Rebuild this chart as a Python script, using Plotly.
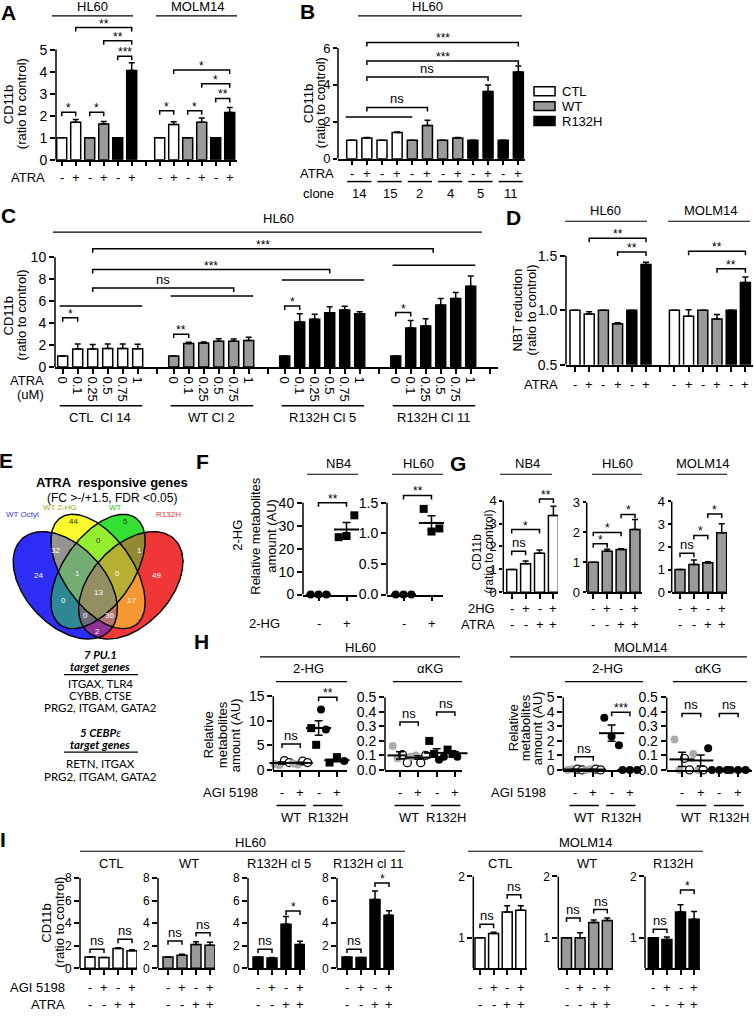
import numpy as np
import plotly.graph_objects as go

W, H = 754, 1016
FONT = "Liberation Sans, Arial, sans-serif"
SERIF_GENES = "Lato, Open Sans, sans-serif"
LW = 1.5
GRAY = "#9a9a9a"
DOT_GRAY = "#ababab"

# ---------------- data ----------------
# A: CD11b, ATRA -/+ for CTL, WT, R132H
a_hl60 = [1.0, 1.70, 1.0, 1.62, 1.0, 4.05]
a_hl60_err = [0, 0.13, 0, 0.12, 0, 0.35]
a_molm = [1.0, 1.60, 1.0, 1.70, 1.0, 2.15]
a_molm_err = [0, 0.12, 0, 0.20, 0, 0.22]
atra_pm = ["-", "+"] * 3

# B: clones
b_clones = ["14", "15", "2", "4", "5", "11"]
b_vals = [1.0, 1.12, 1.0, 1.42, 1.0, 1.80, 1.0, 1.12, 1.0, 3.65, 1.0, 4.70]
b_err = [0, 0.03, 0, 0.03, 0, 0.28, 0, 0.03, 0, 0.35, 0, 0.32]
b_legend = ["CTL", "WT", "R132H"]

# C: ATRA dose response
c_doses = ["0", "0.1", "0.25", "0.5", "0.75", "1"]
c_groups = ["CTL  Cl 14", "WT Cl 2", "R132H Cl 5", "R132H Cl 11"]
c_ctl = [1.0, 1.65, 1.65, 1.70, 1.70, 1.68]
c_ctl_err = [0, 0.45, 0.40, 0.40, 0.40, 0.40]
c_wt = [1.0, 2.15, 2.20, 2.35, 2.35, 2.42]
c_wt_err = [0, 0.12, 0.08, 0.22, 0.20, 0.30]
c_cl5 = [1.0, 4.10, 4.35, 4.95, 5.20, 4.85]
c_cl5_err = [0, 0.75, 0.45, 0.55, 0.35, 0.20]
c_cl11 = [1.0, 3.55, 3.75, 5.65, 6.25, 7.35]
c_cl11_err = [0, 0.70, 0.65, 0.60, 0.55, 0.95]

# D: NBT reduction
d_hl60 = [1.0, 0.965, 1.0, 0.875, 1.0, 1.42]
d_hl60_err = [0, 0.02, 0, 0.01, 0, 0.02]
d_molm = [1.0, 0.945, 1.0, 0.92, 1.0, 1.255]
d_molm_err = [0, 0.06, 0, 0.04, 0, 0.05]

# E: Venn
venn_sets = ["WT Octyl", "WT 2-HG", "WT", "R132H"]
venn_regions = ["A", "B", "C", "D", "AB", "BC", "CD", "ABC", "BCD", "ABCD", "AC", "BD", "ACD", "ABD", "AD"]
venn_counts = [24, 44, 5, 49, 32, 0, 1, 1, 0, 13, 0, 17, 0, 36, 2]
pu1_genes = ["ITGAX, TLR4", "CYBB, CTSE", "PRG2, ITGAM, GATA2"]
cebpe_genes = ["RETN, ITGAX", "PRG2, ITGAM, GATA2"]

# F: 2-HG metabolites
f_nb4 = [{"circle": [0, 0, 0]}, {"square": [25.0, 25.5, 34.5]}]
f_hl60 = [{"circle": [0, 0, 0]}, {"square": [1.40, 1.03, 1.08]}]

# G: CD11b with 2HG / ATRA
g_nb4 = [1.0, 1.25, 1.70, 3.35]
g_nb4_err = [0, 0.12, 0.15, 0.40]
g_hl60 = [1.0, 1.37, 1.43, 2.10]
g_hl60_err = [0, 0.07, 0.02, 0.33]
g_molm = [1.0, 1.22, 1.30, 2.62]
g_molm_err = [0, 0.20, 0.05, 0.40]

# H: metabolites with AGI 5198
h_hl60_2hg = [
    {"gray": [1.2, 1.0], "open": [1.9, 1.5]},
    {"gray": [1.3, 1.1], "open": [1.8, 1.5]},
    {"square": [8.5, 5.1], "circle": [12.3, 8.2]},
    {"square": [1.5, 2.6], "circle": [1.8]},
]
h_hl60_akg = [
    {"gray": [0.165, 0.08], "open": [0.105, 0.05]},
    {"gray": [0.09, 0.10], "open": [0.05, 0.10]},
    {"square": [0.20, 0.11], "circle": [0.07, 0.09]},
    {"square": [0.14, 0.11], "circle": [0.09, 0.12]},
]
h_molm_2hg = [
    {"gray": [0.0, 0.05], "open": [0.05, 0.0]},
    {"gray": [0.0, 0.05], "open": [0.05, 0.0]},
    {"circle": [3.6, 2.3, 1.7]},
    {"circle": [0.0, 0.0, 0.0]},
]
h_molm_akg = [
    {"gray": [0.21, 0.0], "open": [0.08, 0.0]},
    {"gray": [0.11, 0.0], "open": [0.0], "circle": [0.15]},
    {"circle": [0.0, 0.0, 0.0]},
    {"circle": [0.0, 0.0, 0.0]},
]

# I: CD11b with AGI 5198 / ATRA
i_ctl = [1.0, 0.95, 1.75, 1.55]
i_ctl_err = [0, 0, 0.08, 0.10]
i_wt = [1.0, 1.15, 2.10, 2.05]
i_wt_err = [0, 0.10, 0.25, 0.25]
i_cl5 = [1.0, 0.92, 3.90, 2.10]
i_cl5_err = [0, 0.03, 0.70, 0.30]
i_cl11 = [1.0, 0.95, 6.10, 4.70]
i_cl11_err = [0, 0, 0.75, 0.40]
i_m_ctl = [1.0, 1.07, 1.42, 1.45]
i_m_ctl_err = [0, 0.02, 0.10, 0.07]
i_m_wt = [1.0, 1.0, 1.25, 1.28]
i_m_wt_err = [0, 0.08, 0.04, 0.04]
i_m_r132 = [1.0, 0.97, 1.42, 1.30]
i_m_r132_err = [0, 0.04, 0.12, 0.13]
agi_pm = ["-", "+", "-", "+"]
atra_4 = ["-", "-", "+", "+"]

# ---------------- helpers ----------------
fig = go.Figure()
layout = {}
shapes = []
annots = []
info = {}


def px(x):
    return x / W


def py(y):
    return 1 - y / H


def ax(n, letter):
    return letter if n == 1 else f"{letter}{n}"


def axkey(n, letter):
    return f"{letter}axis" if n == 1 else f"{letter}axis{n}"


def txt(x, y, s, size=13, xa="center", ya="middle", angle=0, color="black",
        family=FONT, xref="paper", yref="paper", yshift=0):
    if xref == "paper":
        x = px(x)
    if yref == "paper":
        y = py(y)
    annots.append(dict(x=x, y=y, xref=xref, yref=yref, text=s, showarrow=False,
                       xanchor=xa, yanchor=ya, textangle=angle, yshift=yshift,
                       font=dict(size=size, color=color, family=family)))


def hline(x0, x1, y, width=1.2):
    shapes.append(dict(type="line", xref="paper", yref="paper", x0=px(x0), x1=px(x1),
                       y0=py(y), y1=py(y), line=dict(color="black", width=width)))


def make_axes(n, x0, unit, left, right, base, ppu, ymin, top, yticks, ytext=None,
              xticks=(), xtext=None, fs=14, ticklen=5):
    info[n] = (unit, ppu)
    ymax = ymin + (base - top) / ppu
    xa = dict(domain=[px(left), px(right)], range=[(left - x0) / unit, (right - x0) / unit],
              anchor=ax(n, "y"), showline=True, linecolor="black", linewidth=LW,
              ticks="outside", ticklen=5, tickwidth=LW, tickcolor="black",
              tickmode="array", tickvals=list(xticks), showgrid=False, zeroline=False,
              showticklabels=xtext is not None, fixedrange=True)
    if xtext is not None:
        xa.update(ticktext=xtext, tickangle=90, tickfont=dict(size=13))
    ya = dict(domain=[py(base), py(top)], range=[ymin, ymax], anchor=ax(n, "x"),
              showline=False, ticks="outside", ticklen=ticklen, tickwidth=LW,
              tickcolor="black", tickmode="array", tickvals=yticks,
              ticktext=ytext or [str(t) for t in yticks],
              tickfont=dict(size=fs), showgrid=False, zeroline=False, fixedrange=True)
    layout[axkey(n, "x")] = xa
    layout[axkey(n, "y")] = ya
    shapes.append(dict(type="line", xref=ax(n, "x") + " domain", yref=ax(n, "y"),
                       x0=0, x1=0, y0=ymin, y1=yticks[-1],
                       line=dict(color="black", width=LW)))


def bars(n, xs, vals, errs, colors, wpx=10):
    unit = info[n][0]
    fig.add_trace(go.Bar(
        x=list(xs), y=vals, width=wpx / unit,
        marker=dict(color=colors, line=dict(color="black", width=LW)),
        error_y=dict(type="data", symmetric=False, array=errs, arrayminus=[0] * len(errs),
                     color="black", thickness=LW, width=3),
        xaxis=ax(n, "x"), yaxis=ax(n, "y"), hoverinfo="skip", showlegend=False))


def bracket(n, xa_, xb_, y, label=None, drop=4):
    d = drop / info[n][1]
    shapes.append(dict(type="path", xref=ax(n, "x"), yref=ax(n, "y"),
                       path=f"M{xa_},{y - d} L{xa_},{y} L{xb_},{y} L{xb_},{y - d}",
                       line=dict(color="black", width=LW)))
    if label:
        star = label.startswith("*")
        annots.append(dict(x=(xa_ + xb_) / 2, y=y, xref=ax(n, "x"), yref=ax(n, "y"),
                           text=label, showarrow=False, xanchor="center", yanchor="bottom",
                           yshift=-5 if star else -1,
                           font=dict(size=12 if star else 13, color="black", family=FONT)))


def row(n, xs, labels, y, size=13):
    for x, s in zip(xs, labels):
        txt(x, y, s, size=size, xref=ax(n, "x"))


def underline(n, xa_, xb_, y, width=1.5):
    shapes.append(dict(type="line", xref=ax(n, "x"), yref="paper", x0=xa_, x1=xb_,
                       y0=py(y), y1=py(y), line=dict(color="black", width=width)))


STY = {
    "open": dict(symbol="circle", color="white", line=dict(color="black", width=1.3)),
    "gray": dict(symbol="circle", color=DOT_GRAY, line=dict(color=DOT_GRAY, width=0)),
    "circle": dict(symbol="circle", color="black", line=dict(color="black", width=0)),
    "square": dict(symbol="square", color="black", line=dict(color="black", width=0)),
}


def dots(n, groups, spread=0.4, size=8, mean_w=18):
    for gi, grp in enumerate(groups):
        allv = [v for vs in grp.values() for v in vs]
        offs = np.linspace(-spread, spread, len(allv)) if len(allv) > 1 else [0.0]
        k = 0
        for kind, vs in grp.items():
            xs = [gi + offs[k + j] for j in range(len(vs))]
            k += len(vs)
            fig.add_trace(go.Scatter(x=xs, y=vs, mode="markers", cliponaxis=False,
                                     marker=dict(size=size, **STY[kind]),
                                     xaxis=ax(n, "x"), yaxis=ax(n, "y"),
                                     hoverinfo="skip", showlegend=False))
        m = float(np.mean(allv))
        s = float(np.std(allv, ddof=1) / np.sqrt(len(allv)))
        fig.add_trace(go.Scatter(x=[gi], y=[m], mode="markers", cliponaxis=False,
                                 marker=dict(symbol="line-ew", size=mean_w,
                                             line=dict(color="black", width=2)),
                                 error_y=dict(type="data", array=[s], color="black",
                                              thickness=1.5, width=4),
                                 xaxis=ax(n, "x"), yaxis=ax(n, "y"),
                                 hoverinfo="skip", showlegend=False))


TRIO = ["white", "white", GRAY, GRAY, "black", "black"]

# ---------------- panel letters ----------------
for letter, (lx, ly) in {"A": (8, 13), "B": (307, 12), "C": (8, 217), "D": (513, 219),
                         "E": (6, 464), "F": (202, 465), "G": (458, 467),
                         "H": (201, 647), "I": (3, 846)}.items():
    txt(lx, ly, f"<b>{letter}</b>", size=21)

# ---------------- A ----------------
make_axes(1, 61.7, 14.0, 56, 237, 161, 22.2, 0, 18, [0, 1, 2, 3, 4, 5], xticks=range(13))
bars(1, range(6), a_hl60, a_hl60_err, TRIO)
bars(1, range(7, 13), a_molm, a_molm_err, TRIO)
for i, j, y, lab in [(0, 1, 2.16, "*"), (2, 3, 2.16, "*"), (4, 5, 4.7, "***"),
                     (3, 5, 5.4, "**"), (1, 5, 6.0, "**"), (7, 8, 2.22, "*"),
                     (9, 10, 2.22, "*"), (11, 12, 2.78, "**"), (10, 12, 3.45, "*"),
                     (8, 12, 4.07, "*")]:
    bracket(1, i, j, y, lab)
txt(92, 7, "HL60")
hline(52, 133, 16)
txt(197, 7, "MOLM14")
hline(156, 237, 16)
txt(8, 105, "CD11b", angle=-90)
txt(21, 105, "(ratio to control)", angle=-90)
txt(47, 179, "ATRA", xa="right")
row(1, list(range(6)) + list(range(7, 13)), atra_pm * 2, 179)

# ---------------- B ----------------
make_axes(2, 351.7, 15.15, 338, 525, 160, 18.6, 0, 18, [0, 2, 4, 6], xticks=range(12),
          fs=13, ticklen=4)
bars(2, range(12), b_vals, b_err, ["white"] * 4 + [GRAY] * 4 + ["black"] * 4)
bracket(2, -0.4, 4, 2.26, None, drop=0)
for i, j, y, lab in [(1, 5, 2.78, "ns"), (1, 9, 4.43, "ns"), (1, 11, 5.29, "***"),
                     (1, 11, 6.3, "***")]:
    bracket(2, i, j, y, lab)
txt(427, 7, "HL60")
hline(358, 522, 16)
txt(308, 104, "CD11b", angle=-90, size=13)
txt(320, 104, "(ratio to control)", angle=-90, size=13)
for name, col, yc in zip(b_legend, ["white", GRAY, "black"], [92, 107, 122]):
    shapes.append(dict(type="rect", xref="paper", yref="paper", x0=px(534), x1=px(555),
                       y0=py(yc + 4.5), y1=py(yc - 4.5), fillcolor=col,
                       line=dict(color="black", width=1.5)))
    txt(560, yc, name, xa="left")
txt(336, 175, "ATRA", xa="right")
row(2, range(12), atra_pm * 2, 175)
for k in range(6):
    underline(2, 2 * k - 0.3, 2 * k + 1.3, 183)
txt(336, 195, "clone", xa="right")
row(2, [2 * k + 0.5 for k in range(6)], b_clones, 195)

# ---------------- C ----------------
c_pos = [[g * 7.4 + i for i in range(6)] for g in range(4)]
c_gap = [g * 7.4 + 6.27 for g in range(4)]
make_axes(3, 62.7, 15, 55, 498, 370, 11.07, 0, 238, [0, 2, 4, 6, 8, 10],
          xticks=[p for grp in c_pos for p in grp] + c_gap,
          xtext=c_doses * 4 + [""] * 4)
for grp, vals, errs, col in zip(c_pos, [c_ctl, c_wt, c_cl5, c_cl11],
                                [c_ctl_err, c_wt_err, c_cl5_err, c_cl11_err],
                                ["white", GRAY, "black", "black"]):
    bars(3, grp, vals, errs, [col] * 6)
line_y = [5.57, 6.47, 7.92, 9.28]
for g in range(4):
    bracket(3, c_pos[g][0] - 0.2, c_pos[g][5] + 0.3, line_y[g], None, drop=0)
for i, j, y, lab in [(c_pos[0][0], c_pos[0][1], 4.5, "*"), (c_pos[1][0], c_pos[1][1], 3.0, "**"),
                     (c_pos[2][0], c_pos[2][1], 5.57, "*"), (c_pos[3][0], c_pos[3][1], 4.97, "*"),
                     (c_pos[0][2], c_pos[1][4], 7.2, "ns"), (c_pos[0][2], c_pos[2][3], 8.88, "***"),
                     (c_pos[0][2], c_pos[3][2] + 0.5, 10.78, "***")]:
    bracket(3, i, j, y, lab)
txt(278, 220, "HL60")
hline(53, 482, 234)
txt(8, 318, "CD11b", angle=-90)
txt(21, 318, "(ratio to control)", angle=-90)
txt(46, 384, "ATRA", xa="right")
txt(46, 398, "(uM)", xa="right")
for g in range(4):
    underline(3, c_pos[g][0] - 0.2, c_pos[g][5] + 0.3, 409)
    txt(c_pos[g][0] + 2.5, 421, c_groups[g], xref="x3")

# ---------------- D ----------------
make_axes(4, 575, 14.2, 566, 753, 367.7, 110, 0.5, 228, [0.5, 1.0, 1.5],
          ytext=["0.5", "1.0", "1.5"], xticks=range(13))
bars(4, range(6), d_hl60, d_hl60_err, TRIO)
bars(4, range(7, 13), d_molm, d_molm_err, TRIO)
for i, j, y, lab in [(3, 5, 1.534, "**"), (1, 5, 1.66, "**"), (10, 12, 1.38, "**"),
                     (8, 12, 1.54, "**")]:
    bracket(4, i, j, y, lab)
txt(605, 212, "HL60")
hline(565, 647, 223)
txt(710, 212, "MOLM14")
hline(668, 750, 223)
txt(518, 313, "NBT reduction", angle=-90)
txt(532, 313, "(ratio to control)", angle=-90)
txt(560, 388, "ATRA", xa="right")
row(4, list(range(6)) + list(range(7, 13)), atra_pm * 2, 388)

# ---------------- E (Venn) ----------------
VENN_ELL = [(65, 590, 64, 40, 47), (98, 576, 66, 35, 55), (98, 576, 66, 35, -55),
            (131, 590, 64, 40, -47)]
VENN_RGB = [(45, 45, 245), (250, 250, 45), (50, 225, 50), (240, 55, 55)]
VENN_SET_POS = [(22, 519), (60, 512), (115, 512), (168, 519)]
VENN_SET_COL = ["#3a3ad8", "#a3a325", "#24c024", "#e23232"]
VENN_LBL_POS = {"A": (38, 580), "B": (73, 526), "C": (126, 526), "D": (157, 580),
                "AB": (55, 555), "BC": (98, 545), "CD": (140, 555), "ABC": (77, 578),
                "BCD": (118, 578), "ABCD": (98, 597), "AC": (63, 605), "BD": (132, 605),
                "ACD": (85, 620), "ABD": (110, 620), "AD": (97, 637)}
layout["xaxis21"] = dict(domain=[0, px(200)], range=[0, 200], anchor="y21", visible=False,
                         fixedrange=True)
layout["yaxis21"] = dict(domain=[py(655), py(500)], range=[655, 500], anchor="x21",
                         visible=False, fixedrange=True)


def inside(X, Y, cx, cy, a, b, ang):
    t = np.radians(ang)
    dx, dy = X - cx, Y - cy
    u = dx * np.cos(t) + dy * np.sin(t)
    v = -dx * np.sin(t) + dy * np.cos(t)
    return (u / a) ** 2 + (v / b) ** 2 <= 1


gx = np.arange(0.5, 200, 1.0)
gy = np.arange(500.5, 655, 1.0)
GX, GY = np.meshgrid(gx, gy)
masks = [inside(GX, GY, *e) for e in VENN_ELL]
cnt = sum(m.astype(int) for m in masks)
rgb = sum(m[..., None] * np.array(c, dtype=float) for m, c in zip(masks, VENN_RGB))
rgb = rgb / np.maximum(cnt, 1)[..., None]
z = np.concatenate([np.round(rgb), (cnt > 0)[..., None].astype(float)], axis=2).astype(int)
fig.add_trace(go.Image(z=z.tolist(), colormodel="rgba", x0=0.5, dx=1, y0=500.5, dy=1,
                       xaxis="x21", yaxis="y21", hoverinfo="skip"))
s_ = np.linspace(0, 2 * np.pi, 240)
for cx, cy, a, b, ang in VENN_ELL:
    t = np.radians(ang)
    ex = cx + a * np.cos(s_) * np.cos(t) - b * np.sin(s_) * np.sin(t)
    ey = cy + a * np.cos(s_) * np.sin(t) + b * np.sin(s_) * np.cos(t)
    fig.add_trace(go.Scatter(x=ex.tolist(), y=ey.tolist(), mode="lines",
                             line=dict(color="black", width=1.4),
                             xaxis="x21", yaxis="y21", hoverinfo="skip", showlegend=False))
for reg, c in zip(venn_regions, venn_counts):
    x, y = VENN_LBL_POS[reg]
    col = "#333300" if reg in ("B", "C", "BC") else "white"
    txt(x, y, str(c), size=8, xref="x21", yref="y21", color=col)
for name, (x, y), col in zip(venn_sets, VENN_SET_POS, VENN_SET_COL):
    txt(x, y, name, size=8, color=col)
txt(112, 486, "<b>ATRA  responsive genes</b>", size=13)
txt(112, 502, "(FC >-/+1.5, FDR <0.05)", size=12)
GS = 11.5
txt(100, 660, "<b><i>7 PU.1</i></b>", size=GS, family=SERIF_GENES)
txt(100, 672, "<b><i>target genes</i></b>", size=GS, family=SERIF_GENES)
hline(64, 138, 680, width=1.3)
for k, gline in enumerate(pu1_genes):
    txt(100, 689 + 12 * k, gline, size=GS, family=SERIF_GENES)
txt(100, 738, "<b><i>5 CEBP</i></b><i>ε</i>", size=GS, family=SERIF_GENES)
txt(100, 750, "<b><i>target genes</i></b>", size=GS, family=SERIF_GENES)
hline(64, 138, 758, width=1.3)
for k, gline in enumerate(cebpe_genes):
    txt(100, 770 + 13 * k, gline, size=GS, family=SERIF_GENES)

# ---------------- F ----------------
make_axes(5, 318.5, 28, 303, 357, 599.3, 2.315, 0, 490, [0, 10, 20, 30, 40], xticks=[0, 1])
make_axes(6, 403.5, 28, 387, 443, 599.3, 61.7, 0, 490, [0, 0.5, 1.0, 1.5],
          ytext=["0.0", "0.5", "1.0", "1.5"], xticks=[0, 1])
dots(5, f_nb4, spread=0.28)
dots(6, f_hl60, spread=0.28)
bracket(5, 0, 1, 40, "**")
bracket(6, 0, 1, 1.62, "**")
txt(338, 467, "NB4")
hline(307, 358, 478)
txt(418, 467, "HL60")
hline(392, 443, 478)
txt(238, 540, "2-HG", angle=-90)
txt(256, 540, "Relative metabolites", angle=-90)
txt(272, 540, "amount (AU)", angle=-90)
txt(282, 628, "2-HG", xa="right")
row(5, [0, 1], ["-", "+"], 628)
row(6, [0, 1], ["-", "+"], 628)

# ---------------- G ----------------
make_axes(7, 511.7, 13.9, 503.3, 558, 597, 23.1, 0, 488, [0, 1, 2, 3, 4], xticks=range(4),
          fs=13, ticklen=3)
make_axes(8, 593.3, 13.9, 586.7, 642, 597, 30.2, 0, 488, [0, 1, 2, 3], xticks=range(4),
          fs=13, ticklen=3)
make_axes(9, 680, 13.9, 671.7, 727, 597, 22.9, 0, 488, [0, 1, 2, 3, 4], xticks=range(4),
          fs=13, ticklen=3)
bars(7, range(4), g_nb4, g_nb4_err, ["white"] * 4)
bars(8, range(4), g_hl60, g_hl60_err, [GRAY] * 4)
bars(9, range(4), g_molm, g_molm_err, [GRAY] * 4)
for n, sig in [(7, [(0, 1, 1.79, "ns"), (0, 2, 2.74, "*"), (2, 3, 4.07, "**")]),
               (8, [(0, 1, 1.62, "*"), (0, 2, 2.0, "*"), (2, 3, 2.6, "*")]),
               (9, [(0, 1, 1.72, "ns"), (1, 2, 2.5, "*"), (2, 3, 3.45, "*")])]:
    for i, j, y, lab in sig:
        bracket(n, i, j, y, lab)
    row(n, range(4), agi_pm, 613)
    row(n, range(4), atra_4, 629)
txt(527, 467, "NB4")
hline(500, 552, 478)
txt(617, 467, "HL60")
hline(592, 642, 478)
txt(702, 467, "MOLM14")
hline(677, 727, 478)
txt(497, 613, "2HG", xa="right")
txt(497, 629, "ATRA", xa="right")
txt(477, 556, "CD11b", angle=-90, size=12)
txt(489, 556, "(ratio to control)", angle=-90, size=12)

# ---------------- H ----------------
tk5 = ["0.0", "0.1", "0.2", "0.3", "0.4", "0.5"]
make_axes(10, 282, 18.3, 273.3, 346.7, 776, 4.95, 0, 690, [0, 5, 10, 15], xticks=range(4))
make_axes(11, 400, 18.3, 385, 461.7, 776, 146, 0, 690, [0, 0.1, 0.2, 0.3, 0.4, 0.5],
          ytext=tk5, xticks=range(4))
make_axes(12, 575, 18.3, 563.3, 640, 776, 14.6, 0, 690, [0, 1, 2, 3, 4, 5], xticks=range(4))
make_axes(13, 682, 18.7, 666.7, 752, 776, 146, 0, 690, [0, 0.1, 0.2, 0.3, 0.4, 0.5],
          ytext=tk5, xticks=range(4))
dots(10, h_hl60_2hg)
dots(11, h_hl60_akg)
dots(12, h_molm_2hg)
dots(13, h_molm_akg)
for n, sig in [(10, [(0, 1, 5.25, "ns"), (2, 3, 14.8, "**")]),
               (11, [(0, 1, 0.33, "ns"), (2, 3, 0.40, "ns")]),
               (12, [(0, 1, 0.9, "ns"), (2, 3, 3.98, "***")]),
               (13, [(0, 1, 0.39, "ns"), (2, 3, 0.39, "ns")])]:
    for i, j, y, lab in sig:
        bracket(n, i, j, y, lab)
    row(n, range(4), agi_pm, 799)
    underline(n, -0.3, 1.3, 812)
    underline(n, 1.7, 3.3, 812)
    row(n, [0.5, 2.5], ["WT", "R132H"], 824)
txt(360, 653, "HL60")
hline(260, 460, 662)
txt(308, 674, "2-HG")
hline(276, 347, 687)
txt(430, 674, "αKG")
hline(393, 462, 687)
txt(640, 653, "MOLM14")
hline(510, 747, 662)
txt(607, 674, "2-HG")
hline(565, 643, 687)
txt(708, 674, "αKG")
hline(673, 747, 687)
txt(260, 799, "AGI 5198", xa="right")
txt(548, 799, "AGI 5198", xa="right")
for x, s in zip([208, 222, 235], ["Relative", "metabolites", "amount (AU)"]):
    txt(x, 741, s, angle=-90)
for x, s in zip([513, 525, 537], ["Relative", "metabolites", "amount (AU)"]):
    txt(x, 734, s, angle=-90)

# ---------------- I ----------------
i_hl = [(14, 80, i_ctl, i_ctl_err, "white", "CTL",
         [(0, 1, 1.7, "ns"), (2, 3, 2.58, "ns")]),
        (15, 158, i_wt, i_wt_err, GRAY, "WT",
         [(0, 1, 2.43, "ns"), (2, 3, 3.16, "ns")]),
        (16, 248, i_cl5, i_cl5_err, "black", "R132H cl 5",
         [(0, 1, 1.7, "ns"), (2, 3, 5.07, "*")]),
        (17, 337, i_cl11, i_cl11_err, "black", "R132H cl 11",
         [(0, 1, 1.7, "ns"), (2, 3, 7.56, "*")])]
for n, X, vals, errs, col, title, sig in i_hl:
    make_axes(n, X + 10, 14, X, X + 57, 976, 11.375, 0, 878, [0, 2, 4, 6, 8],
              xticks=range(4), fs=12)
    bars(n, range(4), vals, errs, [col] * 4)
    for i, j, y, lab in sig:
        bracket(n, i, j, y, lab)
    row(n, range(4), agi_pm, 995)
    row(n, range(4), atra_4, 1012)
    txt(X + 31, 870, title)
i_mo = [(18, 473.3, 480, i_m_ctl, i_m_ctl_err, "white", "CTL",
         [(0, 1, 1.22, "ns"), (2, 3, 1.70, "ns")]),
        (19, 558.3, 566.5, i_m_wt, i_m_wt_err, GRAY, "WT",
         [(0, 1, 1.32, "ns"), (2, 3, 1.46, "ns")]),
        (20, 645, 653.3, i_m_r132, i_m_r132_err, "black", "R132H",
         [(0, 1, 1.14, "ns"), (2, 3, 1.78, "*")])]
for n, X, x0, vals, errs, col, title, sig in i_mo:
    make_axes(n, x0, 13.6, X, x0 + 3 * 13.6 + 6, 976, 61.7, 0.5, 876, [1, 2],
              xticks=range(4), fs=12)
    bars(n, range(4), vals, errs, [col] * 4)
    for i, j, y, lab in sig:
        bracket(n, i, j, y, lab)
    row(n, range(4), agi_pm, 995)
    row(n, range(4), atra_4, 1012)
    txt(x0 + 20, 870, title)
txt(250, 849, "HL60")
hline(80, 405, 858)
txt(585, 849, "MOLM14")
hline(468, 703, 858)
txt(67, 995, "AGI 5198", xa="right")
txt(67, 1012, "ATRA", xa="right")
txt(47, 930, "CD11b", angle=-90)
txt(60, 930, "(ratio to control)", angle=-90)

fig.update_layout(
    width=W, height=H, margin=dict(l=0, r=0, t=0, b=0),
    paper_bgcolor="white", plot_bgcolor="rgba(0,0,0,0)",
    barmode="overlay", showlegend=False, hovermode=False,
    font=dict(family=FONT, color="black", size=13),
    shapes=shapes, annotations=annots, **layout)

# the page body keeps its default margin otherwise, which shifts and crops the figure
fig.write_html("out.html", config={"displayModeBar": False},
               post_script="document.body.style.margin='0';document.body.style.overflow='hidden';")
